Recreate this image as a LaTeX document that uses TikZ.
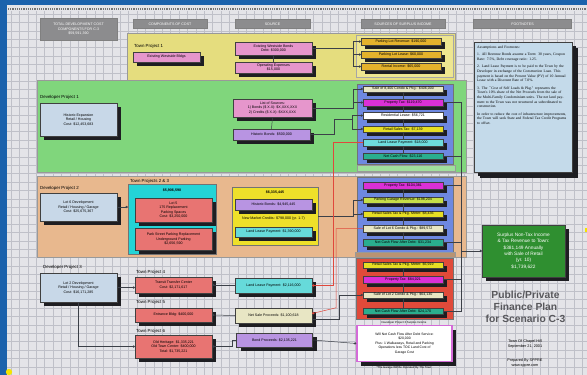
\documentclass[tikz,border=0pt]{standalone}
\usepackage{fontspec}
\setmainfont{Liberation Sans}
\newfontfamily\notesfont{Liberation Serif}
\usetikzlibrary{shadows,arrows.meta}

\definecolor{frameblue}{HTML}{1B62AC}
\definecolor{canvas}{HTML}{E4E4E8}
\definecolor{gridc}{HTML}{BFC0C8}
\definecolor{hdrgray}{HTML}{8C8C8E}
\definecolor{shadowc}{HTML}{1E1E22}
\definecolor{linkc}{HTML}{3C4048}
\definecolor{redline}{HTML}{E0483C}
\definecolor{tpyellow}{HTML}{E5DD7E}
\definecolor{tppanel}{HTML}{EEE690}
\definecolor{dpgreen}{HTML}{80D67C}
\definecolor{dppeach}{HTML}{E8B88E}
\definecolor{costpink}{HTML}{E696CC}
\definecolor{goldbar}{HTML}{E4B22C}
\definecolor{costred}{HTML}{E87472}
\definecolor{devblue}{HTML}{C8D8E8}
\definecolor{bondpurple}{HTML}{B894E2}
\definecolor{leasecyan}{HTML}{66DADA}
\definecolor{tpcyan}{HTML}{24D4D6}
\definecolor{srcyellow}{HTML}{EEE02A}
\definecolor{colblue}{HTML}{6E88E0}
\definecolor{colred}{HTML}{E04A3A}
\definecolor{barmag}{HTML}{DA30D6}
\definecolor{barteal}{HTML}{2AAE8E}
\definecolor{barcream}{HTML}{E8E6C4}
\definecolor{barlime}{HTML}{C6DE48}
\definecolor{baryellow}{HTML}{E6DE24}
\definecolor{barcyan}{HTML}{6EDCDC}
\definecolor{cashmag}{HTML}{D46AD8}
\definecolor{surplusgreen}{HTML}{2F8F30}
\definecolor{notesblue}{HTML}{C4DAEA}
\definecolor{titlegray}{HTML}{58585C}
\definecolor{handle}{HTML}{F4E400}

\newcommand\cardfont{\fontsize{3.6}{4.5}\selectfont}
\newcommand\lblfont{\fontsize{4.4}{5}\selectfont}

\tikzset{
  region/.style={draw=black!40, line width=0.5pt},
  hdr/.style={draw=black!50, fill=hdrgray, text=white, align=center,
    font=\cardfont, inner sep=0.5pt, minimum height=9},
  card/.style={draw=black!75, line width=0.4pt, align=center, font=\cardfont,
    inner sep=0.6pt,
    drop shadow={shadow xshift=4pt, shadow yshift=-4pt, fill=shadowc, opacity=1}},
  bar/.style={card, minimum width=80, minimum height=6.5},
  column/.style={draw=black!55, line width=0.5pt},
  link/.style={draw=linkc, line width=0.5pt},
  tip/.style={-{Circle[length=2.2pt]}},
  redlink/.style={draw=redline, line width=0.5pt},
  lbl/.style={anchor=west, font=\lblfont, inner sep=0pt},
}

\begin{document}
\begin{tikzpicture}[x=1pt, y=-1pt]
    \useasboundingbox (0,0) rectangle (587,375);

    % Canvas, frame and grid
    \fill[canvas] (0,0) rectangle (587,375);
    \foreach \gx in {11,19.4,...,587}
        \draw[gridc, line width=0.35pt] (\gx,11) -- (\gx,375);
    \foreach \gy in {14,22.4,...,375}
        \draw[gridc, line width=0.35pt] (7,\gy) -- (587,\gy);
    \fill[frameblue] (0,0) rectangle (587,5);
    \fill[frameblue] (0,0) rectangle (7,375);
    \draw[black!55, line width=2.4pt, dash pattern=on 1.2pt off 1pt] (8,9) -- (587,9);

    % Column headers
    \node[hdr, minimum width=77, minimum height=22] (htotal) at (78.5,29)
        {TOTAL DEVELOPMENT COST\\COMPONENTS FOR C-3\\\$59,591,390};
    \node[hdr, minimum width=74] (hcost) at (170,24) {COMPONENTS OF COST};
    \node[hdr, minimum width=75] (hsource) at (272.5,24) {SOURCE};
    \node[hdr, minimum width=84] (hsurplus) at (403,24) {SOURCES OF SURPLUS INCOME};
    \node[hdr, minimum width=98] (hnotes) at (522.5,24) {FOOTNOTES};

    % Town Project 1
    \draw[region, fill=tpyellow] (127,33) rectangle (455,80);
    \draw[black!35, fill=tppanel] (356,35) rectangle (453,77);
    \node[lbl] (ltp1) at (134,46) {Town Project 1};
    \node[card, fill=costpink, minimum width=67, minimum height=10] (tp1) at (166.5,57)
        {Existing Westside Bldgs};
    \node[card, fill=costpink, minimum width=77, minimum height=13] (wsbonds) at (273.5,48.5)
        {Existing Westside Bonds\\Debt: \$300,000};
    \node[card, fill=costpink, minimum width=77, minimum height=11] (opex) at (273.5,67.5)
        {Operating Expenses\\\$15,000};
    \node[bar, fill=goldbar] (tp1bar1) at (401,41.5) {Parking Lot Revenue: \$190,000};
    \node[bar, fill=goldbar] (tp1bar2) at (401,54.5) {Parking Lot Lease: \$60,000};
    \node[bar, fill=goldbar] (tp1bar3) at (401,66.5) {Rental Income: \$65,000};

    % Developer Project 1
    \draw[region, fill=dpgreen] (37,80) rectangle (466,172);
    \node[lbl] (ldp1) at (40,97) {Developer Project 1};
    \node[card, fill=devblue, minimum width=77, minimum height=33] (dp1) at (78.5,119.5)
        {Historic Expansion\\Retail / Housing\\Cost: \$12,453,683};
    \node[card, fill=costpink, minimum width=79, minimum height=18] (dp1list) at (272.5,108)
        {List of Sources:\\1) Bonds (\$ X.X): \$X,XXX,XXX\\2) Credits (\$ X.X): \$XXX,XXX};
    \node[card, fill=bondpurple, minimum width=77, minimum height=11] (dp1bonds) at (271.5,134.5)
        {Historic Bonds: \$500,000};
    \node[column, fill=colblue, minimum width=96, minimum height=80] (d1col) at (405,124) {};
    \draw[black!40, fill=dpgreen!75!white] (357,165) rectangle (455,171);
    \node[bar, fill=barcream] (d1bar1) at (403,89) {Sale of 8,400 Condo \& Pkg.: \$406,000};
    \node[bar, fill=barmag] (d1bar2) at (403,102.5) {Property Tax: \$119,470};
    \node[bar, fill=white] (d1bar3) at (403,115.5) {Residential Lease: \$56,721};
    \node[bar, fill=baryellow] (d1bar4) at (403,129) {Retail Sales Tax: \$7,139};
    \node[bar, fill=barcyan] (d1bar5) at (403,142.5) {Land Lease Payment: \$18,000};
    \node[bar, fill=barteal] (d1bar6) at (403,156) {Net Cash Flow: \$23,116};

    % Developer Project 2
    \draw[region, fill=dppeach] (37,176) rectangle (466,257);
    \node[lbl] (ldp2) at (40,188) {Developer Project 2};
    \node[card, fill=devblue, minimum width=77, minimum height=28] (dp2) at (78.5,207)
        {Lot 6 Development\\Retail / Housing / Garage\\Cost: \$25,675,367};
    \node[lbl] (ltp23) at (130,181) {Town Projects 2 \& 3};
    \node[column, fill=tpcyan, minimum width=88, minimum height=70] (tp23) at (172,219) {};
    \node[font=\cardfont\bfseries, inner sep=0pt] (tp23cost) at (172,190) {\$5,906,590};
    \node[card, fill=costred, minimum width=77, minimum height=24] (tp2) at (173.5,210)
        {Lot 5\\175 Replacement\\Parking Spaces\\Cost: \$3,250,000};
    \node[card, fill=costred, minimum width=77, minimum height=22] (tp3) at (173.5,239)
        {Park Street Parking Replacement\\Underground Parking\\\$2,656,590};
    \node[column, fill=srcyellow, minimum width=86, minimum height=58] (dp2src) at (275,216) {};
    \node[font=\cardfont\bfseries, inner sep=0pt] (dp2srccost) at (275,192) {\$6,335,445};
    \node[card, fill=bondpurple, minimum width=77, minimum height=11] (dp2bonds) at (273.5,204.5)
        {Historic Bonds: \$4,945,445};
    \node[font=\cardfont, inner sep=0pt] (dp2credit) at (273.5,219) {New Market Credits: \$798,000 (yr. 1-7)};
    \node[card, fill=leasecyan, minimum width=77, minimum height=10] (dp2lease) at (273.5,232)
        {Land Lease Payment: \$1,390,000};
    \node[column, fill=colblue, minimum width=96, minimum height=75] (d2col) at (405,214.5) {};
    \draw[black!40, fill=dppeach!80!black] (355,252) rectangle (455,257);
    \node[bar, fill=barmag] (d2bar1) at (403,185.5) {Property Tax: \$104,381};
    \node[bar, fill=barlime] (d2bar2) at (403,200) {Parking Garage Revenue: \$198,204};
    \node[bar, fill=baryellow] (d2bar3) at (403,214) {Retail Sales Tax \& Pkg. Meter: \$8,436};
    \node[bar, fill=barcream] (d2bar4) at (403,228.5) {Sale of Lot 6 Condo \& Pkg.: \$89,572};
    \node[bar, fill=barteal] (d2bar5) at (403,242.5) {Net Cash Flow After Debt: \$31,234};

    % Developer Project 3
    \node[lbl] (ldp3) at (43,267) {Developer Project 3};
    \node[card, fill=devblue, minimum width=77, minimum height=29] (dp3) at (78.5,287.5)
        {Lot 2 Development\\Retail / Housing / Garage\\Cost: \$16,171,285};
    \node[lbl] (ltp4) at (136,272) {Town Project 4};
    \node[card, fill=costred, minimum width=77, minimum height=16] (tp4) at (173.5,285)
        {Transit Transfer Center\\Cost: \$2,171,617};
    \node[lbl] (ltp5) at (136,302) {Town Project 5};
    \node[card, fill=costred, minimum width=77, minimum height=14] (tp5) at (173.5,315)
        {Entrance Bldg: \$400,000};
    \node[lbl] (ltp6) at (136,331) {Town Project 6};
    \node[card, fill=costred, minimum width=77, minimum height=23] (tp6) at (173.5,346.5)
        {Old Heritage: \$1,335,221\\Old Town Center: \$400,000\\Total: \$1,735,221};
    \node[card, fill=leasecyan, minimum width=77, minimum height=15] (dp3lease) at (273.5,285.5)
        {Land Lease Payment: \$2,116,000};
    \node[card, fill=barcream, minimum width=77, minimum height=15] (netsale) at (273.5,315.5)
        {Net Sale Proceeds: \$1,100,618};
    \node[card, fill=bondpurple, minimum width=76, minimum height=14] (dp3bonds) at (274.5,340)
        {Bond Proceeds: \$2,135,221};
    \node[column, fill=colred, minimum width=97, minimum height=61] (d3col) at (404.5,288.5) {};
    \node[bar, fill=baryellow] (d3bar1) at (403,265) {Retail Sales Tax \& Pkg. Meter: \$6,919};
    \node[bar, fill=barmag] (d3bar2) at (403,279.5) {Property Tax: \$84,021};
    \node[bar, fill=barcream] (d3bar3) at (403,295) {Sale of Lot 2 Condo \& Pkg.: \$64,130};
    \node[bar, fill=barteal] (d3bar4) at (403,311) {Net Cash Flow After Debt: \$24,170};
    \node[font=\fontsize{2.8}{3}\selectfont, inner sep=0pt] (d3note) at (404,322.5)
        {Developer Project 3 Surplus Income};
    \node[card, fill=white, draw=cashmag, line width=1.6pt, minimum width=95, minimum height=36,
          font=\fontsize{3.4}{4.4}\selectfont] (cash) at (404.5,343.5)
        {Will Net Cash Flow After Debt Service:\\\$20,000\\Plus: 1 Walkaways, Retail and Parking\\Operations less TOC Land Cost of\\Garage Cost};
    \node[font=\fontsize{2.8}{3}\selectfont, inner sep=0pt] (cashnote) at (404,368)
        {*The Garage Will Be Operated By The Town};

    % Footnotes
    \node[card, fill=notesblue, minimum width=98, minimum height=130,
          drop shadow={shadow xshift=6pt, shadow yshift=-6pt, fill=shadowc, opacity=1}]
          (notes) at (523,107) {};
    \node[anchor=north west, text width=90, align=left, inner sep=0pt,
          font=\notesfont\fontsize{3.7}{4.7}\selectfont] (notestext) at (477,46)
        {Assumptions and Footnotes:\\[2.5pt]
         1. All Revenue Bonds assume a Term: 30 years, Coupon Rate: 7.5\%, Debt coverage ratio: 1.25.\\[2.5pt]
         2. Land Lease Payment is to be paid to the Town by the Developer in exchange of the Construction Loan. This payment is based on the Present Value (PV) of 10 Annual Lease with a Discount Rate of 7.0\%.\\[2.5pt]
         3. The ``Cost of Self Loads \& Pkg.'' represents the Town's 10\% share of the Net Proceeds from the sale of the Multi-Family Condominium units. The net land payment to the Town was not structured as subordinated to construction.\\[2.5pt]
         In order to reduce the cost of infrastructure improvements, the Town will seek State and Federal Tax Credit Programs to offset.};

    % Surplus and title
    \node[card, fill=surplusgreen, text=white, minimum width=83, minimum height=52,
          font=\fontsize{4.8}{6.3}\selectfont] (surplus) at (523.5,251)
        {Surplus Non-Tax Income\\\& Tax Revenue to Town:\\\$381,149 Annually\\with Sale of Retail\\(yr. 10)\\\$1,739,622};
    \node[font=\fontsize{10.3}{12.3}\selectfont\bfseries, text=titlegray, align=center] (title)
        at (525.5,307) {Public/Private\\Finance Plan\\for Scenario C-3};
    \node[font=\fontsize{3.8}{5}\selectfont, align=center] (town) at (525,344)
        {Town Of Chapel Hill\\September 21, 2001};
    \node[font=\fontsize{3.8}{5}\selectfont, align=center] (prep) at (525,363)
        {Prepared By SPPRE\\www.sppre.com};

    % Links inside the columns
    \foreach \a/\b in {1/2,2/3,3/4,4/5,5/6}
        \draw[link] (d1bar\a.south) -- (d1bar\b.north);
    \foreach \a/\b in {1/2,2/3,3/4,4/5}
        \draw[link] (d2bar\a.south) -- (d2bar\b.north);
    \foreach \a/\b in {1/2,2/3,3/4}
        \draw[link] (d3bar\a.south) -- (d3bar\b.north);
    \draw[link] (wsbonds.south) -- (opex.north);
    \draw[link] (dp1list.south) -- (dp1bonds.north);

    % Sources to surplus income
    \draw[link, tip] (wsbonds.east) -- ++(41,0) |- (tp1bar1.west);
    \draw[link, tip] (wsbonds.east) -- ++(41,0) |- (tp1bar2.west);
    \draw[link, tip] (wsbonds.east) -- ++(41,0) |- (tp1bar3.west);
    \draw[link, tip] (dp1list.east) -- ++(41,0) |- (d1bar1.west);
    \draw[link, tip] (dp1list.east) -- ++(41,0) |- (d1bar2.west);
    \draw[link, tip] (dp1bonds.east) -- ++(24,0) -- ++(0,-15) -- ++(18,0) |- (d1bar3.west);
    \draw[link, tip] (dp1bonds.east) -- ++(24,0) -- ++(0,-15) -- ++(18,0) |- (d1bar4.west);
    \draw[link, tip] (dp2src.east) -- ++(35,0) |- (d2bar2.west);
    \draw[link, tip] (dp2src.east) -- ++(35,0) |- (d2bar3.west);
    \draw[link, tip] ([yshift=-4pt]netsale.east) -- ++(27,0) |- (d3bar3.west);
    \draw[link, tip] (dp3bonds.east) -- (cash.west);

    % Land lease and sale proceeds
    \coordinate (redA) at (333,0);
    \coordinate (redB) at (336,0);
    \draw[redlink, tip] (d1bar5.west) -| (redA |- dp3lease.east) -- (dp3lease.east);
    \draw[redlink, tip] (d2bar4.west) -| (redB |- netsale.north east) -- ([yshift=2pt]netsale.east);

    % Developer to town projects
    \draw[link, tip] (dp2.east) -- (tp23.west |- dp2.east);
    \draw[link, tip] (dp3.east) -- (tp4.west |- dp3.east);
    \draw[link, tip] (dp3.south) |- (tp6.west);
    \draw[link, tip] (dp3lease.west) -- (tp4.east -| dp3lease.west) -- (tp4.east);
    \draw[link, tip] (netsale.west) -- (tp5.east);
    \draw[link, tip] (dp3bonds.west) -- ++(-4,0) |- (tp6.east);

    % Surplus spine
    \coordinate (spine) at (461,0);
    \foreach \bar in {d1bar2,d1bar6,d2bar1,d2bar5,d3bar2,d3bar4}
        \draw[link] (\bar.east) -| (spine |- surplus.west);
    \draw[link, tip] (spine |- surplus.west) -- (surplus.west);

    % Selection handles
    \fill[handle] (9,372) circle (3.2);
    \fill[handle] (585,228) rectangle (587,232);
\end{tikzpicture}
\end{document}
